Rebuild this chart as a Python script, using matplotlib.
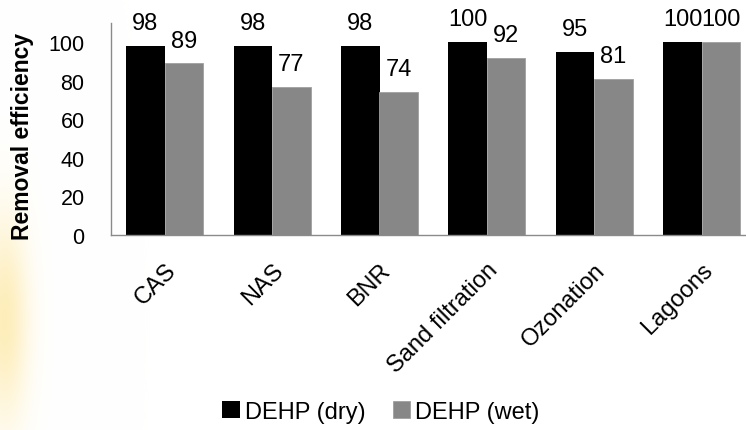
import numpy as np
import matplotlib
matplotlib.use('Agg')
import matplotlib.pyplot as plt

plt.rcParams['font.family'] = ['Liberation Sans', 'DejaVu Sans']

categories = ['CAS', 'NAS', 'BNR', 'Sand filtration', 'Ozonation', 'Lagoons']
dry = [98, 98, 98, 100, 95, 100]
wet = [89, 77, 74, 92, 81, 100]
series_names = ['DEHP (dry)', 'DEHP (wet)']

W, H = 746, 431
fig = plt.figure(figsize=(W/100, H/100), dpi=100)

# soft yellow glow on the left edge (slide background)
bg = fig.add_axes([0, 0, 1, 1], zorder=-10)
yy, xx = np.mgrid[0:H, 0:W]
glow = np.exp(-((xx - 4) / 24.0)**2) * np.exp(-((yy - 320) / 100.0)**2)
img = np.ones((H, W, 3))
tint = np.array([0.99, 0.85, 0.40])
img = img * (1 - 0.45*glow[..., None]) + tint * 0.45*glow[..., None]
bg.imshow(img, aspect='auto', extent=[0, W, H, 0])
bg.axis('off')

ax = fig.add_axes([111/W, 195/H, 644.4/W, 212/H])
ax.patch.set_alpha(0)

x = np.arange(len(categories))
bw = 0.358
b1 = ax.bar(x - bw/2, dry, bw, color='black', label=series_names[0])
b2 = ax.bar(x + bw/2, wet, bw, color='#878787', edgecolor='#a0a0a0', linewidth=0.6, label=series_names[1])

for bars, vals in ((b1, dry), (b2, wet)):
    for r, v in zip(bars, vals):
        ax.annotate(str(v), (r.get_x() + r.get_width()/2, v), xytext=(0, 12.2),
                    textcoords='offset points', ha='center', va='baseline', fontsize=17)

ax.set_xlim(-0.5, len(categories) - 0.5)
ax.set_ylim(0, 110)
ax.set_yticks(range(0, 101, 20))
ax.tick_params(axis='y', length=0, pad=19, labelsize=15.5)
ax.set_xticks(x)
ax.set_xticklabels(categories, rotation=45, ha='right', rotation_mode='anchor', fontsize=17)
ax.tick_params(axis='x', length=0, pad=17)

for s in ('top', 'right'):
    ax.spines[s].set_visible(False)
for s in ('left', 'bottom'):
    ax.spines[s].set_color('#8a8a8a')
    ax.spines[s].set_linewidth(1.0)

ax.set_ylabel('Removal efficiency', fontsize=16.5, fontweight='bold')
ax.yaxis.label.set_va('center')
ax.yaxis.set_label_coords(-0.1366, 0.47)

fig.legend(loc='center', bbox_to_anchor=(381/W, 1 - 413/H), ncol=2, frameon=False,
           fontsize=17, handlelength=0.75, handleheight=0.7, handletextpad=0.2,
           columnspacing=1.15)

fig.savefig('out.png', dpi=100)
